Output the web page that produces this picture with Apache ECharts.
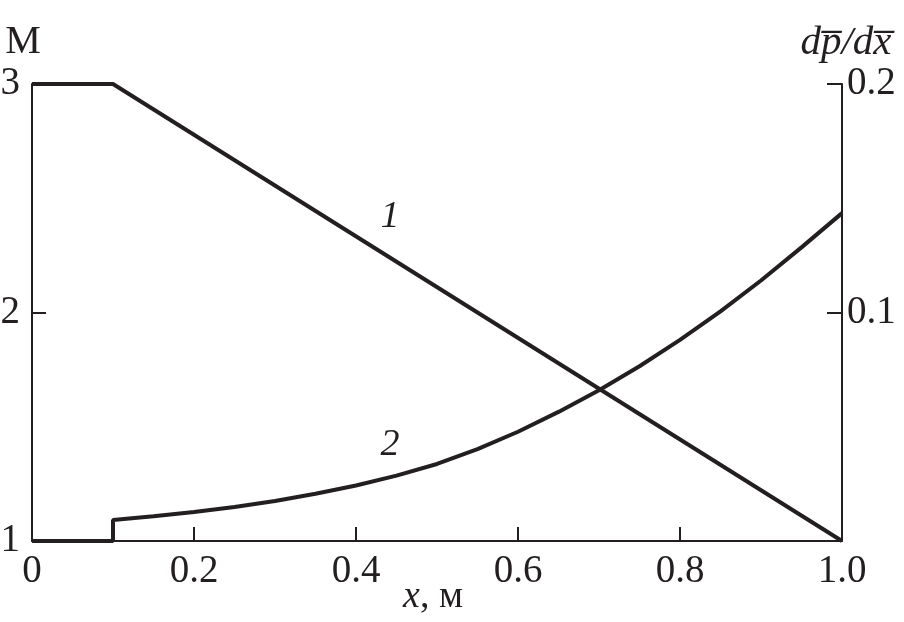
<!DOCTYPE html>
<html>
<head>
<meta charset="utf-8">
<script src="https://cdn.jsdelivr.net/npm/echarts@6/dist/echarts.min.js"></script>
<style>
html,body{margin:0;padding:0;background:#fff;}
#chart{width:904px;height:622px;}
</style>
</head>
<body>
<div id="chart"></div>
<script>
// Curve 1: Mach number M (left axis)
const line1X = [0, 0.1, 1.0];
const line1M = [3, 3, 1];
// Curve 2: pressure gradient dp/dx (right axis)
const curve2X = [0, 0.1, 0.1, 0.15, 0.2, 0.25, 0.3, 0.35, 0.4, 0.45, 0.5, 0.55, 0.6, 0.65, 0.7, 0.75, 0.8, 0.85, 0.9, 0.95, 1.0];
const curve2Y = [0, 0, 0.0092, 0.0108, 0.0127, 0.0149, 0.0175, 0.0207, 0.0243, 0.0286, 0.0337, 0.0402, 0.0478, 0.0565, 0.066, 0.0765, 0.088, 0.1005, 0.114, 0.1285, 0.1435];
// Tick labels
const xTickLabels = ['0', '0.2', '0.4', '0.6', '0.8', '1.0'];
const leftTickLabels = ['1', '2', '3'];
const rightTickLabels = ['', '0.1', '0.2'];
// Curve number labels
const curveLabels = ['1', '2'];
const curveLabelX = [0.442, 0.442];
const curveLabelY = [2.42, 0.042];

const ink = '#231f20';
const font = '"Liberation Serif", "Times New Roman", serif';

const chart = echarts.init(document.getElementById('chart'));
chart.setOption({
  animation: false,
  backgroundColor: '#fff',
  grid: {left: 32, right: 62, top: 84, bottom: 81, containLabel: false, outerBoundsMode: 'none'},
  xAxis: {
    type: 'value', min: 0, max: 1, interval: 0.2,
    name: '{i|x}, м', nameLocation: 'middle', nameGap: 37, nameMoveOverlap: false,
    nameTextStyle: {color: ink, fontFamily: font, fontSize: 38, verticalAlign: 'top', padding: [0, 8, 0, 0],
      rich: {i: {fontStyle: 'italic', fontFamily: font, fontSize: 38, color: ink}}},
    axisLine: {show: true, onZero: false, lineStyle: {color: ink, width: 2}},
    axisTick: {show: true, inside: true, length: 14, lineStyle: {color: ink, width: 2}},
    splitLine: {show: false},
    axisLabel: {color: ink, fontFamily: font, fontSize: 39, margin: 11,
      formatter: (v, i) => xTickLabels[Math.round(v / 0.2)]}
  },
  yAxis: [{
    type: 'value', min: 1, max: 3, interval: 1, position: 'left',
    name: 'M', nameLocation: 'end', nameGap: 22, nameMoveOverlap: false,
    nameTextStyle: {color: ink, fontFamily: font, fontSize: 40, align: 'center', verticalAlign: 'bottom', padding: [0, 18, 0, 0]},
    axisLine: {show: true, lineStyle: {color: ink, width: 2}},
    axisTick: {show: true, inside: true, length: 14, lineStyle: {color: ink, width: 2}},
    splitLine: {show: false},
    axisLabel: {color: ink, fontFamily: font, fontSize: 39, margin: 12,
      formatter: (v) => leftTickLabels[Math.round(v - 1)]}
  }, {
    type: 'value', min: 0, max: 0.2, interval: 0.1, position: 'right',
    name: 'dp\u0305/dx\u0305', nameLocation: 'end', nameGap: 20, nameMoveOverlap: false,
    nameTextStyle: {color: ink, fontFamily: font, fontStyle: 'italic', fontSize: 41, align: 'center', verticalAlign: 'bottom', padding: [0, 0, 0, 8]},
    axisLine: {show: true, lineStyle: {color: ink, width: 2}},
    axisTick: {show: true, inside: true, length: 15, lineStyle: {color: ink, width: 2}},
    splitLine: {show: false},
    axisLabel: {color: ink, fontFamily: font, fontSize: 39, margin: 5,
      formatter: (v) => rightTickLabels[Math.round(v / 0.1)]}
  }],
  series: [{
    type: 'line', yAxisIndex: 0, showSymbol: false, symbol: 'none',
    lineStyle: {color: ink, width: 4}, z: 5,
    data: line1X.map((x, i) => [x, line1M[i]]),
    markPoint: {
      symbol: 'circle', symbolSize: 0, silent: true,
      label: {show: true, color: ink, fontFamily: font, fontStyle: 'italic', fontSize: 38, formatter: '{b}'},
      data: [{name: curveLabels[0], coord: [curveLabelX[0], curveLabelY[0]]}]
    }
  }, {
    type: 'line', yAxisIndex: 1, showSymbol: false, symbol: 'none',
    lineStyle: {color: ink, width: 4}, z: 5,
    data: curve2X.map((x, i) => [x, curve2Y[i]]),
    markPoint: {
      symbol: 'circle', symbolSize: 0, silent: true,
      label: {show: true, color: ink, fontFamily: font, fontStyle: 'italic', fontSize: 38, formatter: '{b}'},
      data: [{name: curveLabels[1], coord: [curveLabelX[1], curveLabelY[1]]}]
    }
  }]
});
</script>
</body>
</html>
